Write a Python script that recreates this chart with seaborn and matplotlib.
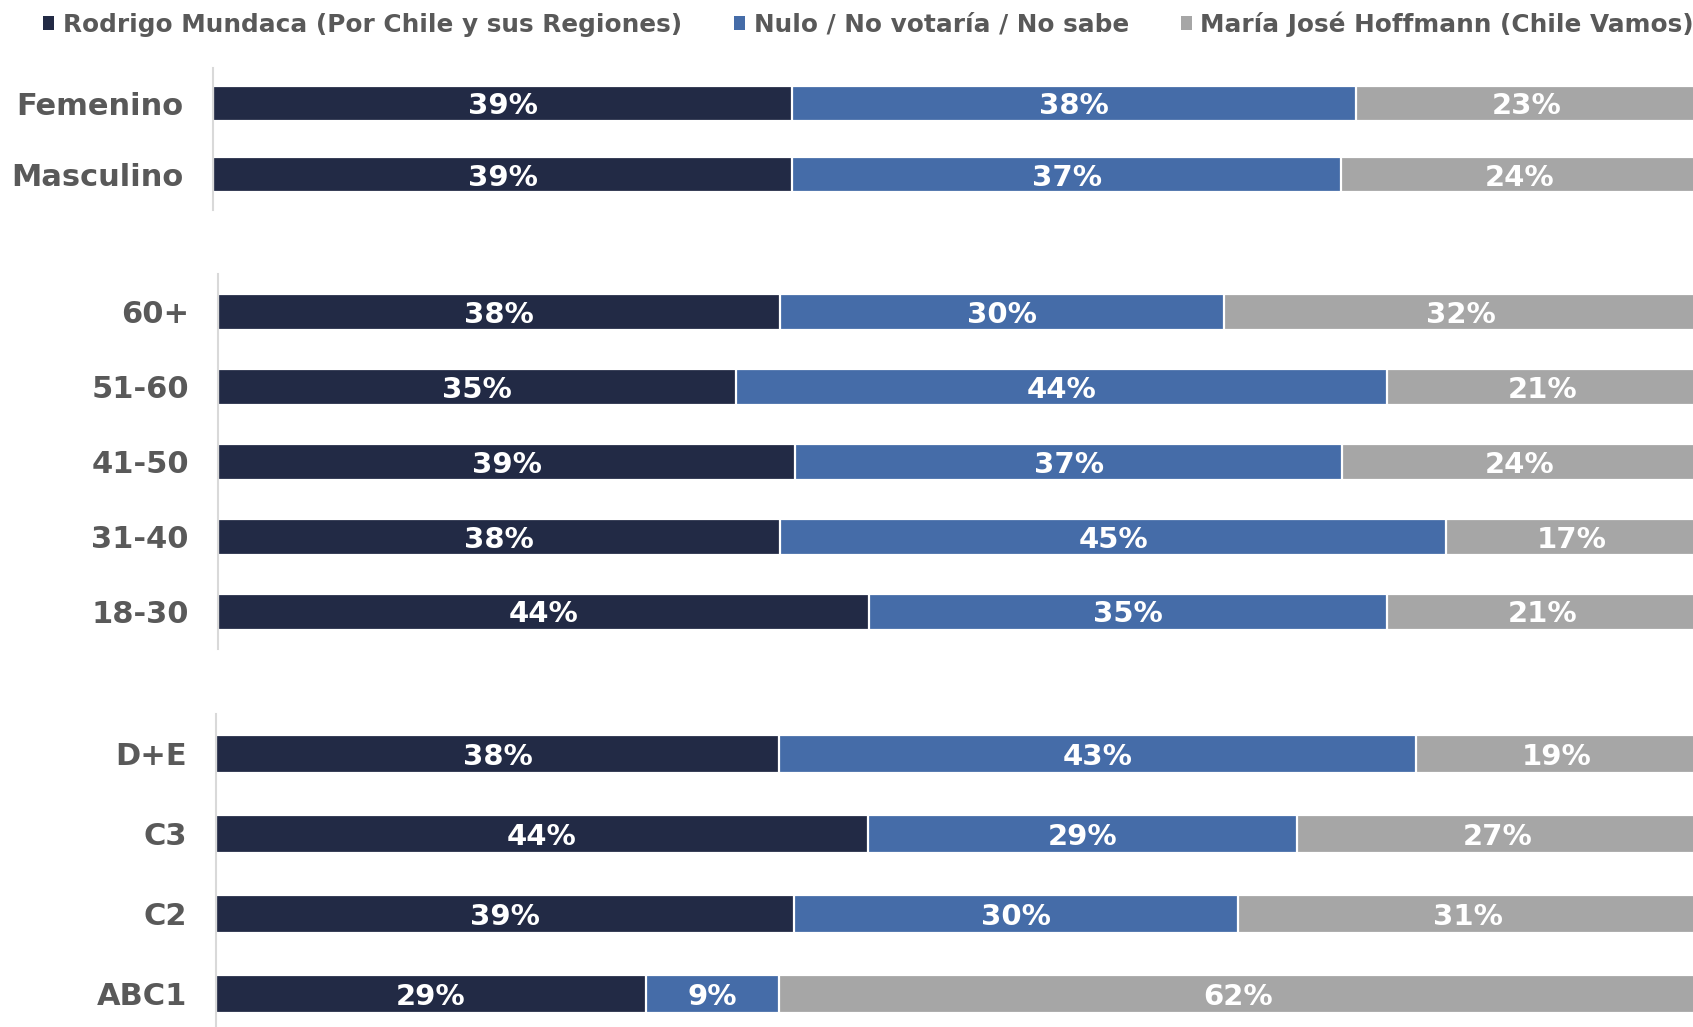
import pandas as pd
import seaborn as sns
import matplotlib.pyplot as plt
from matplotlib.patches import Patch

# dados (%)
categorias = ["Femenino", "Masculino",
              "60+", "51-60", "41-50", "31-40", "18-30",
              "D+E", "C3", "C2", "ABC1"]
grupos = ["Sexo", "Sexo",
          "Edad", "Edad", "Edad", "Edad", "Edad",
          "GSE", "GSE", "GSE", "GSE"]
mundaca = [39, 39, 38, 35, 39, 38, 44, 38, 44, 39, 29]
nulo = [38, 37, 30, 44, 37, 45, 35, 43, 29, 30, 9]
hoffmann = [23, 24, 32, 21, 24, 17, 21, 19, 27, 31, 62]
series = ["Rodrigo Mundaca (Por Chile y sus Regiones)",
          "Nulo / No votaría / No sabe",
          "María José Hoffmann (Chile Vamos)"]

cores = ["#222A45", "#456CA8", "#A6A6A6"]
cinza_txt = "#595959"

df = pd.DataFrame({"Categoria": categorias, "Grupo": grupos,
                   "Mundaca": mundaca, "Nulo": nulo, "Hoffmann": hoffmann})
df["ate_nulo"] = df["Mundaca"] + df["Nulo"]
df["total"] = df["ate_nulo"] + df["Hoffmann"]

sns.set_theme(style="white")
plt.rcParams["font.family"] = ["DejaVu Sans"]

fig = plt.figure(figsize=(16.93, 10.27), dpi=100)

# posicao de cada bloco [left, bottom, width, height]
retangulos = {
    "Sexo": [213 / 1693, 1 - 210 / 1027, 1 - 213 / 1693, 142 / 1027],
    "Edad": [218 / 1693, 1 - 649 / 1027, 1 - 218 / 1693, 375 / 1027],
    "GSE": [216 / 1693, 1 - 1034 / 1027, 1 - 216 / 1693, 320 / 1027],
}

for grupo, sub in df.groupby("Grupo", sort=False):
    sub = sub.reset_index(drop=True)
    ax = fig.add_axes(retangulos[grupo])

    # barras empilhadas: desenha do acumulado maior para o menor
    for col, cor in zip(["total", "ate_nulo", "Mundaca"], cores[::-1]):
        sns.barplot(data=sub, y="Categoria", x=col, color=cor, orient="h",
                    width=0.48, saturation=1, errorbar=None,
                    edgecolor="white", linewidth=1.6, ax=ax)

    for i, linha in sub.iterrows():
        inicio = 0
        for col in ["Mundaca", "Nulo", "Hoffmann"]:
            v = linha[col]
            ax.text(inicio + v / 2, i, f"{v}%", ha="center", va="center_baseline",
                    color="white", fontsize=21, fontweight="bold")
            inicio += v

    ax.set_xlim(0, 99.7)
    ax.set_ylim(len(sub) - 0.5, -0.5)
    ax.set_xlabel("")
    ax.set_ylabel("")
    ax.set_xticks([])
    ax.tick_params(axis="y", length=0, pad=21)
    for lbl in ax.get_yticklabels():
        lbl.set_fontsize(22)
        lbl.set_fontweight("bold")
        lbl.set_color(cinza_txt)
    sns.despine(ax=ax, top=True, right=True, bottom=True)
    ax.spines["left"].set_color("#D9D9D9")
    ax.spines["left"].set_linewidth(1.5)
    ax.set_facecolor("none")

handles = [Patch(facecolor=c, edgecolor="none") for c in cores]
fig.legend(handles, series, loc="center", bbox_to_anchor=(0.513, 1 - 24 / 1027),
           ncol=3, frameon=False, labelcolor=cinza_txt,
           prop={"size": 17.8, "weight": "bold"},
           handlelength=0.45, handleheight=0.45, handletextpad=0.35,
           columnspacing=2.1, borderaxespad=0)

fig.savefig("out.png", dpi=100)
